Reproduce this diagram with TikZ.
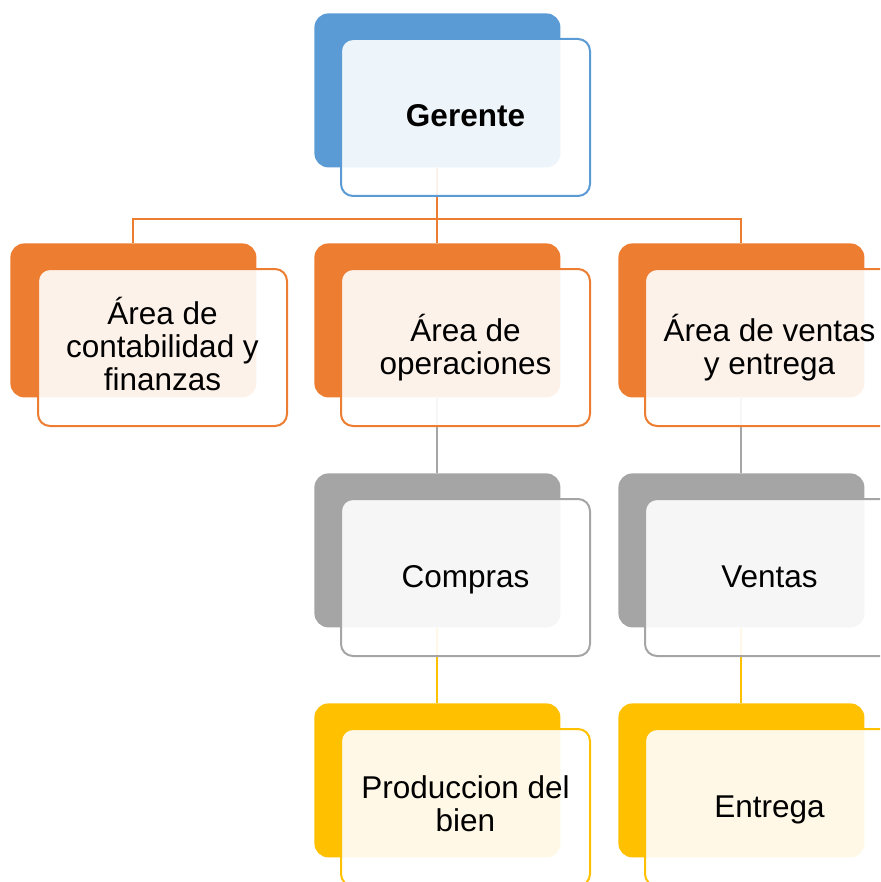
\documentclass[tikz,border=0pt]{standalone}
\usepackage{fontspec}
\setmainfont{Liberation Sans}
\usetikzlibrary{arrows,shapes}

\definecolor{azul}{HTML}{5B9BD5}
\definecolor{naranja}{HTML}{ED7D31}
\definecolor{gris}{HTML}{A5A5A5}
\definecolor{oro}{HTML}{FFC000}

\newcommand{\arribastrut}{\rule{0pt}{13pt}}
\newcommand{\abajostrut}{\rule[-3.5pt]{0pt}{0pt}}

\begin{document}
\begin{tikzpicture}[x=0.5pt,y=-0.5pt]
      \tikzstyle{back}=[rectangle,rounded corners=7pt,inner sep=0pt,minimum width=123pt,minimum height=77pt,anchor=north west]
      \tikzstyle{front}=[rectangle,rounded corners=6pt,line width=1pt,fill=white,fill opacity=0.9,text opacity=1,minimum width=124.5pt,minimum height=78.5pt,anchor=north west,align=center,font=\fontsize{15.75}{16.5}\selectfont,execute at begin node={\arribastrut},execute at end node={\abajostrut}]
      \tikzstyle{link}=[line width=1pt]

      \clip (0,0) rectangle (880,882);

      % fondos
      \node[back,fill=azul](gerenteb) at (314,13) {};
      \node[back,fill=naranja](contab) at (10,243) {};
      \node[back,fill=naranja](operb) at (314,243) {};
      \node[back,fill=naranja](areaventb) at (618,243) {};
      \node[back,fill=gris](comprab) at (314,473) {};
      \node[back,fill=gris](ventb) at (618,473) {};
      \node[back,fill=oro](prodb) at (314,703) {};
      \node[back,fill=oro](entregab) at (618,703) {};

      % conectores
      \draw[link,naranja] (gerenteb.south) -- ++(0,51) -| (contab.north);
      \draw[link,naranja] (gerenteb.south) -- ++(0,51) -| (areaventb.north);
      \draw[link,naranja] (gerenteb.south) -- (operb.north);
      \draw[link,gris] (operb.south) -- (comprab.north);
      \draw[link,gris] (areaventb.south) -- (ventb.north);
      \draw[link,oro] (comprab.south) -- (prodb.north);
      \draw[link,oro] (ventb.south) -- (entregab.north);

      % cajas de texto
      \node[front,draw=azul](gerente) at (340,38) {\textbf{Gerente}};
      \node[front,draw=naranja](conta) at (37,268) {Área de\\contabilidad y\\finanzas};
      \node[front,draw=naranja](oper) at (340,268) {Área de\\operaciones};
      \node[front,draw=naranja](areavent) at (644,268) {Área de ventas\\y entrega};
      \node[front,draw=gris](compra) at (340,498) {Compras};
      \node[front,draw=gris](vent) at (644,498) {Ventas};
      \node[front,draw=oro](prod) at (340,728) {Produccion del\\bien};
      \node[front,draw=oro](entrega) at (644,728) {Entrega};
\end{tikzpicture}
\end{document}
